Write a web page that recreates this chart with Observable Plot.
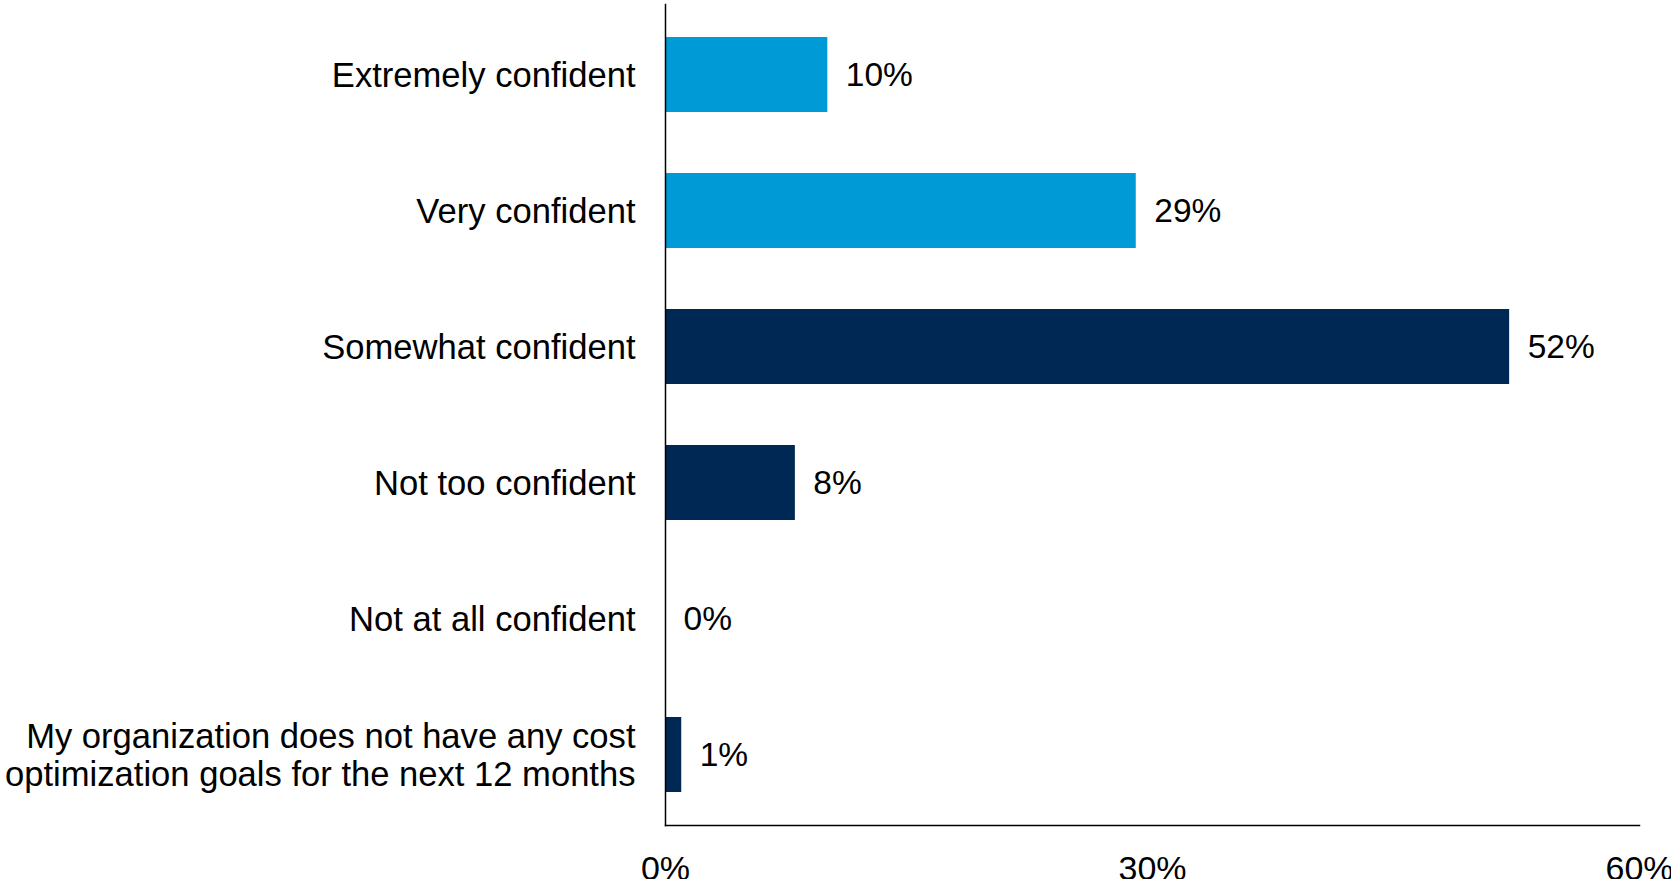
<!DOCTYPE html>
<html>
<head>
<meta charset="utf-8">
<script src="https://cdn.jsdelivr.net/npm/d3@7"></script>
<script src="https://cdn.jsdelivr.net/npm/@observablehq/plot@0.6"></script>
<style>
  html, body { margin: 0; padding: 0; background: #fff; }
  #chart { width: 1671px; height: 879px; overflow: hidden; }
</style>
</head>
<body>
<div id="chart"></div>
<script>
const categories = [
  "Extremely confident",
  "Very confident",
  "Somewhat confident",
  "Not too confident",
  "Not at all confident",
  "My organization does not have any cost\noptimization goals for the next 12 months"
];
const values = [10, 29, 52, 8, 0, 1];
const barColors = ["#009BD6", "#009BD6", "#002855", "#002855", "#002855", "#002855"];
const xTicks = [0, 30, 60];

const data = categories.map((c, i) => ({category: c, value: values[i], color: barColors[i]}));

const chart = Plot.plot({
  width: 1671,
  height: 879,
  marginLeft: 665,
  marginRight: 32,
  marginTop: 4,
  marginBottom: 54,
  style: {fontFamily: "'Liberation Sans', Arial, sans-serif", fontSize: "34px", color: "#000", background: "#fff"},
  x: {domain: [0, 60], label: null},
  y: {domain: categories, paddingInner: 0.445, paddingOuter: 0.2225, label: null},
  marks: [
    Plot.barX(data, {x: "value", y: "category", fill: "color"}),
    Plot.frame({anchor: "left", stroke: "#000", strokeWidth: 1.5}),
    Plot.frame({anchor: "bottom", stroke: "#000", strokeWidth: 1.5}),
    Plot.text(data, {x: "value", y: "category", text: d => d.value + "%", textAnchor: "start", dx: 18, fill: "#000", fontSize: 33.5}),
    Plot.axisX({ticks: xTicks, tickFormat: d => d + "%", tickSize: 0, tickPadding: 30, label: null, fontSize: 34}),
    Plot.axisY({tickSize: 0, tickPadding: 30, label: null, fontSize: 34.6, lineHeight: 1.11})
  ]
});
document.getElementById("chart").appendChild(chart);
</script>
</body>
</html>
